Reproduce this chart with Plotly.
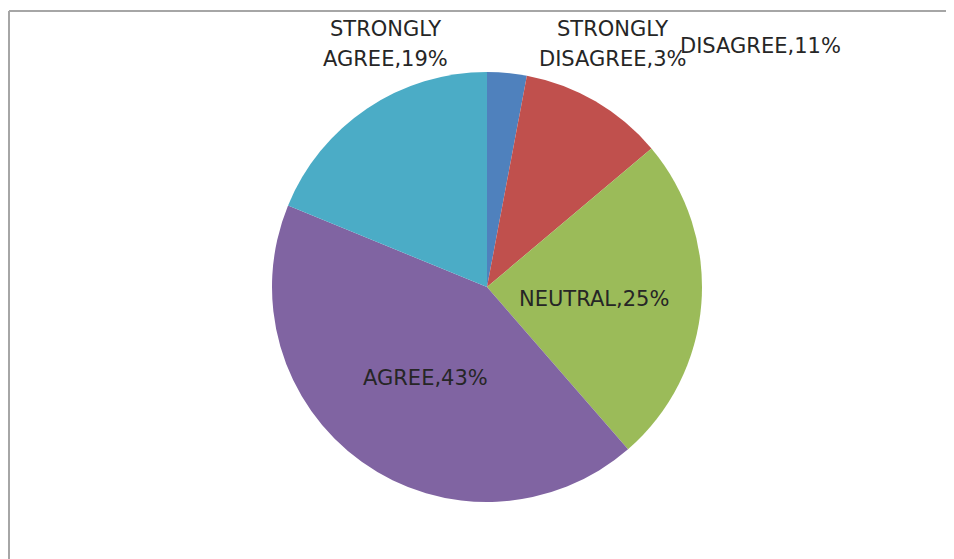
import plotly.graph_objects as go

labels = ["STRONGLY DISAGREE", "DISAGREE", "NEUTRAL", "AGREE", "STRONGLY AGREE"]
values = [3, 11, 25, 43, 19]
colors = ["#4F81BD", "#C0504D", "#9BBB59", "#8064A2", "#4BACC6"]

# the page body adds an 8px margin; work in page pixels and subtract it
OFF = 8
W, H = 954 - OFF, 559 - OFF
cx, cy, r = 487 - OFF, 287 - OFF, 215

fig = go.Figure(go.Pie(
    labels=labels, values=values, sort=False, direction="clockwise", rotation=0,
    marker=dict(colors=colors, line=dict(width=0)),
    textinfo="none", hoverinfo="label+percent", showlegend=False,
    domain=dict(x=[(cx - r) / W, (cx + r) / W], y=[(H - cy - r) / H, (H - cy + r) / H]),
))

# label placement (page pixel centres) per slice: (x, y_line1, y_line2)
label_pos = [(612, 29, 59), (760, 46, None), (594, 299, None), (425, 378, None), (385, 29, 59)]

def add_text(px, py, t):
    fig.add_annotation(x=(px - OFF) / W, y=1 - (py - OFF) / H, xref="paper", yref="paper",
                       text=t, showarrow=False, xanchor="center", yanchor="middle",
                       font=dict(family="DejaVu Sans", size=21, color="#262626"))

for (px, py1, py2), lab, v in zip(label_pos, labels, values):
    if lab.startswith("STRONGLY "):
        add_text(px, py1, "STRONGLY")
        add_text(px, py2, lab.split(" ", 1)[1] + "," + str(v) + "%")
    else:
        add_text(px, py1, lab + "," + str(v) + "%")

# chart frame: only the top and left edges are visible in the picture
fx, fy = (9 - OFF) / W, 1 - (11 - OFF) / H
fig.add_shape(type="line", xref="paper", yref="paper", x0=fx, x1=1.0, y0=fy, y1=fy,
              line=dict(color="#A6A6A6", width=2))
fig.add_shape(type="line", xref="paper", yref="paper", x0=fx, x1=fx, y0=0.0, y1=fy,
              line=dict(color="#A6A6A6", width=2))

fig.update_layout(width=W, height=H, margin=dict(l=0, r=0, t=0, b=0),
                  paper_bgcolor="white", plot_bgcolor="white")
fig.write_html("out.html")
